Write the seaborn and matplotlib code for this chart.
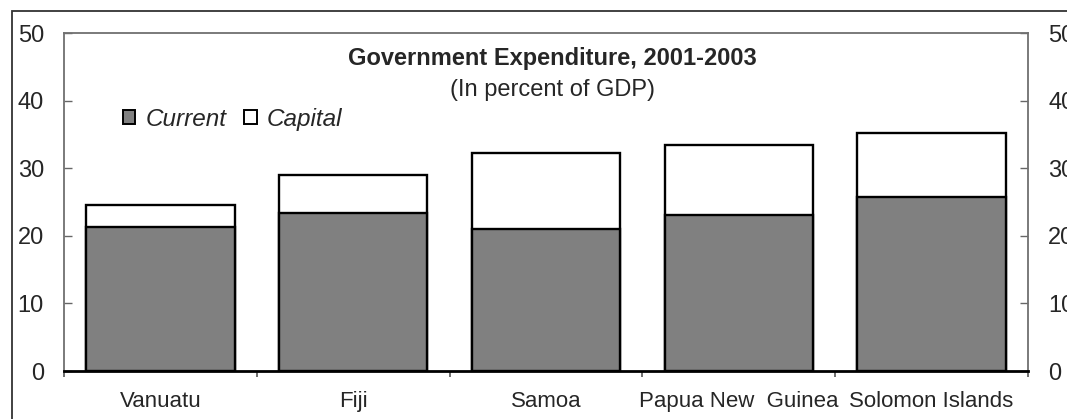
import matplotlib
matplotlib.use("Agg")
import matplotlib.pyplot as plt
import matplotlib.patches as mpatches
import seaborn as sns
import pandas as pd
import numpy as np

countries = ["Vanuatu", "Fiji", "Samoa", "Papua New  Guinea", "Solomon Islands"]
current = [21.3, 23.4, 21.0, 23.1, 25.7]
capital = [3.3, 5.6, 11.2, 10.3, 9.5]
yticks = [0, 10, 20, 30, 40, 50]

sns.set_style("white")
plt.rcParams['font.family'] = ['Liberation Sans', 'DejaVu Sans']

df = pd.DataFrame({"country": countries, "current": current, "capital": capital})
df["total"] = df["current"] + df["capital"]

fig = plt.figure(figsize=(10.67, 4.19), dpi=100)
ax = fig.add_axes([64/1067, 1-371/419, (1028-64)/1067, (371-33)/419])

sns.barplot(data=df, x="country", y="total", color="white", edgecolor="black",
            linewidth=1.7, width=0.77, saturation=1, ax=ax, zorder=2)
sns.barplot(data=df, x="country", y="current", color="#808080", edgecolor="black",
            linewidth=1.7, width=0.77, saturation=1, ax=ax, zorder=3)

ax.set_ylim(0, 50)
ax.set_xlim(-0.5, len(countries) - 0.5)
ax.set_xlabel("")
ax.set_ylabel("")
ax.set_yticks(yticks)
ax.set_yticklabels([str(v) for v in yticks])

# x ticks: major at category boundaries (outward, no labels), minor at centres (inward, labels)
ax.set_xticks(np.arange(-0.5, len(countries), 1.0))
ax.set_xticklabels([])
ax.set_xticks(np.arange(len(countries)), minor=True)
ax.set_xticklabels(countries, minor=True)
ax.tick_params(axis='x', which='major', direction='out', length=4.5, width=1.2,
               color='#555555', bottom=True)
ax.tick_params(axis='x', which='minor', direction='in', length=3.5, width=1.0,
               color='#555555', labelsize=16, pad=14.5, bottom=True)
ax.tick_params(axis='y', direction='in', length=6, width=1.0, color='#666666',
               left=True, right=True, labelleft=True, labelright=True,
               labelsize=17, pad=14.5)

for side in ['left', 'top', 'right']:
    ax.spines[side].set_color('#707070')
    ax.spines[side].set_linewidth(1.3)
ax.spines['bottom'].set_color('black')
ax.spines['bottom'].set_linewidth(2.0)
ax.spines['bottom'].set_zorder(5)

# legend
handles = [mpatches.Patch(facecolor="#808080", edgecolor="black", linewidth=1.4, label="Current"),
           mpatches.Patch(facecolor="white", edgecolor="black", linewidth=1.4, label="Capital")]
leg = ax.legend(handles=handles, loc='center left', bbox_to_anchor=((131-64)/964 - 0.008, (371-119)/338),
                ncol=2, frameon=False, prop={'style': 'italic', 'size': 17.5},
                handlelength=0.5, handleheight=0.5, handletextpad=0.4,
                columnspacing=0.75, borderpad=0, borderaxespad=0)

# titles
fig.text(552/1067, 1-59/419, "Government Expenditure, 2001-2003", ha='center', va='center',
         fontsize=17, fontweight='bold')
fig.text(552/1067, 1-90/419, "(In percent of GDP)", ha='center', va='center', fontsize=17)

# outer frame
frame = mpatches.Rectangle((12/1067, -0.2), 1.2, 0.2 + (1-11/419), transform=fig.transFigure,
                           fill=False, edgecolor='#333333', linewidth=1.3, clip_on=False)
fig.patches.append(frame)

fig.savefig("out.png", dpi=100)
